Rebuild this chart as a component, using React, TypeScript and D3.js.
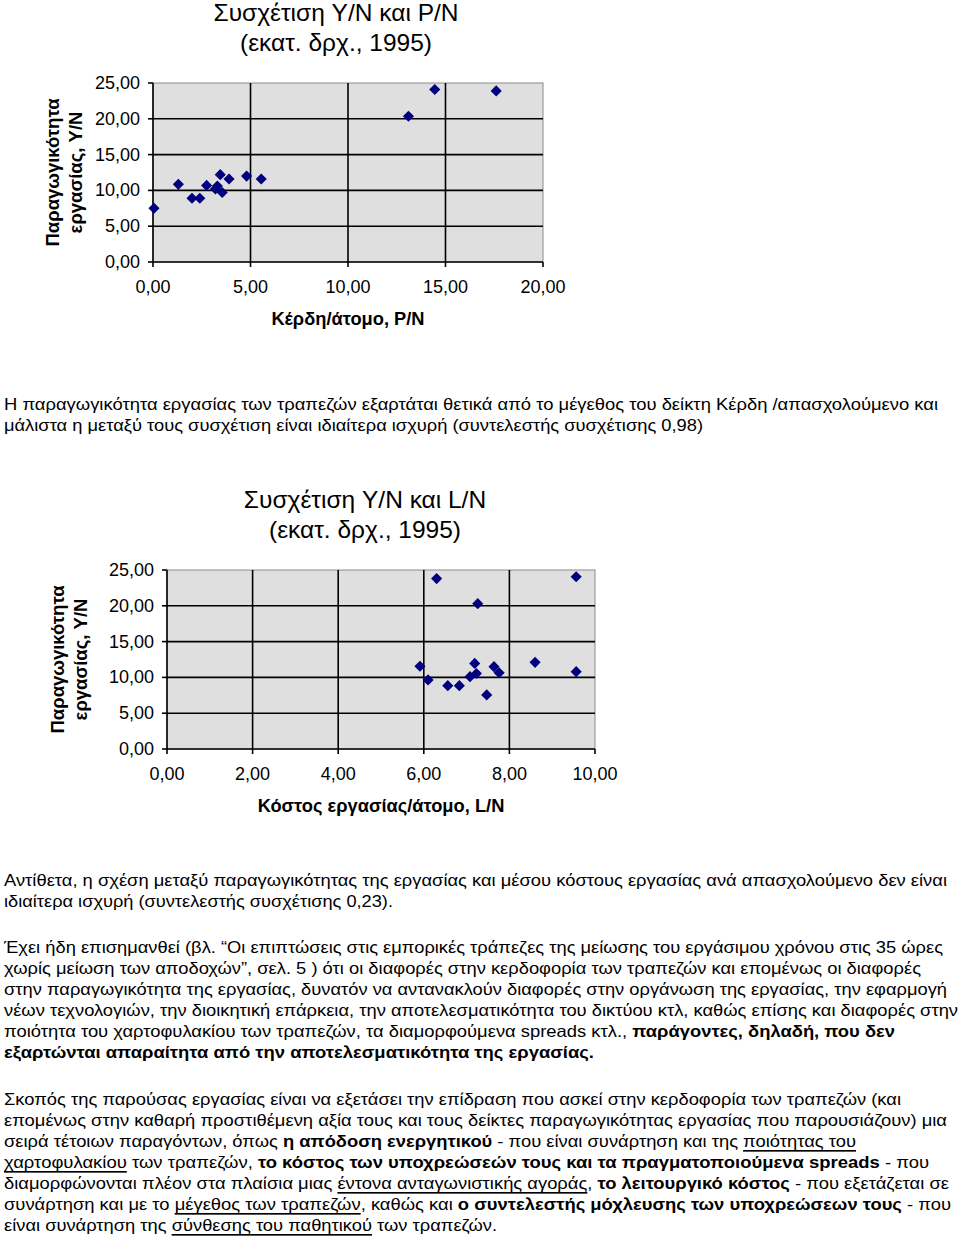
import React from "react";
import * as d3 from "d3";

// ---------- data ----------
const pnValues = [0.05, 1.3, 2.0, 2.4, 2.75, 3.2, 3.3, 3.45, 3.55, 3.9, 4.8, 5.55, 13.1, 14.45, 17.6];
const ynValuesP = [7.5, 10.85, 8.9, 8.9, 10.7, 10.2, 10.6, 12.2, 9.7, 11.6, 12.0, 11.6, 20.35, 24.1, 23.9];

const lnValues = [5.91, 6.1, 6.3, 6.56, 6.83, 7.08, 7.19, 7.23, 7.26, 7.47, 7.64, 7.76, 8.6, 9.56, 9.56];
const ynValuesL = [11.55, 9.65, 23.8, 8.85, 8.85, 10.1, 11.95, 10.55, 20.3, 7.55, 11.5, 10.65, 12.1, 24.05, 10.8];

const yTicks = [0, 5, 10, 15, 20, 25];
const xTicksP = [0, 5, 10, 15, 20];
const xTicksL = [0, 2, 4, 6, 8, 10];

const chart1Title = ["Συσχέτιση Y/N και P/N", "(εκατ. δρχ., 1995)"];
const chart2Title = ["Συσχέτιση Y/N και L/N", "(εκατ. δρχ., 1995)"];
const chart1XTitle = "Κέρδη/άτομο, P/N";
const chart2XTitle = "Κόστος εργασίας/άτομο, L/N";
const yTitleLines = ["Παραγωγικότητα", "εργασίας, Y/N"];

type Seg = { t: string; b?: boolean; u?: boolean };
type Line = { y: number; w: number; segs: Seg[] };

const paragraphs: Line[] = [
  { y: 404, w: 934, segs: [{ t: "Η παραγωγικότητα εργασίας των τραπεζών εξαρτάται θετικά από το μέγεθος του δείκτη Κέρδη /απασχολούμενο και" }] },
  { y: 425, w: 699, segs: [{ t: "μάλιστα η μεταξύ τους συσχέτιση είναι ιδιαίτερα ισχυρή (συντελεστής συσχέτισης 0,98)" }] },
  { y: 880, w: 943, segs: [{ t: "Αντίθετα, η σχέση μεταξύ παραγωγικότητας της εργασίας και μέσου κόστους εργασίας ανά απασχολούμενο δεν είναι" }] },
  { y: 901, w: 389, segs: [{ t: "ιδιαίτερα ισχυρή (συντελεστής συσχέτισης 0,23)." }] },
  { y: 947, w: 939, segs: [{ t: "Έχει ήδη επισημανθεί (βλ. “Οι επιπτώσεις στις εμπορικές τράπεζες της μείωσης του εργάσιμου χρόνου στις 35 ώρες" }] },
  { y: 968, w: 917, segs: [{ t: "χωρίς μείωση των αποδοχών”, σελ. 5 ) ότι οι διαφορές στην κερδοφορία των τραπεζών και επομένως οι διαφορές" }] },
  { y: 989, w: 943, segs: [{ t: "στην παραγωγικότητα της εργασίας, δυνατόν να αντανακλούν διαφορές στην οργάνωση της εργασίας, την εφαρμογή" }] },
  { y: 1010, w: 954, segs: [{ t: "νέων τεχνολογιών, την διοικητική επάρκεια, την αποτελεσματικότητα του δικτύου κτλ, καθώς επίσης και διαφορές στην" }] },
  { y: 1031, w: 891, segs: [{ t: "ποιότητα του χαρτοφυλακίου των τραπεζών, τα διαμορφούμενα spreads κτλ., " }, { t: "παράγοντες, δηλαδή, που δεν", b: true }] },
  { y: 1052, w: 590, segs: [{ t: "εξαρτώνται απαραίτητα από την αποτελεσματικότητα της εργασίας.", b: true }] },
  { y: 1099, w: 897, segs: [{ t: "Σκοπός της παρούσας εργασίας είναι να εξετάσει την επίδραση που ασκεί στην κερδοφορία των τραπεζών (και" }] },
  { y: 1120, w: 943, segs: [{ t: "επομένως στην καθαρή προστιθέμενη αξία τους και τους δείκτες παραγωγικότητας εργασίας που παρουσιάζουν) μια" }] },
  { y: 1141, w: 852, segs: [{ t: "σειρά τέτοιων παραγόντων, όπως " }, { t: "η απόδοση ενεργητικού", b: true }, { t: " - που είναι συνάρτηση και της " }, { t: "ποιότητας του", u: true }] },
  { y: 1162, w: 925, segs: [{ t: "χαρτοφυλακίου", u: true }, { t: " των τραπεζών, " }, { t: "το κόστος των υποχρεώσεών τους και τα πραγματοποιούμενα spreads", b: true }, { t: " - που" }] },
  { y: 1183, w: 945, segs: [{ t: "διαμορφώνονται πλέον στα πλαίσια μιας " }, { t: "έντονα ανταγωνιστικής αγοράς", u: true }, { t: ", " }, { t: "το λειτουργικό κόστος", b: true }, { t: " - που εξετάζεται σε" }] },
  { y: 1204, w: 947, segs: [{ t: "συνάρτηση και με το " }, { t: "μέγεθος των τραπεζών", u: true }, { t: ", καθώς και " }, { t: "ο συντελεστής μόχλευσης των υποχρεώσεων τους", b: true }, { t: " - που" }] },
  { y: 1225, w: 493, segs: [{ t: "είναι συνάρτηση της " }, { t: "σύνθεσης του παθητικού", u: true }, { t: " των τραπεζών." }] },
];

const fmt = (v: number) => d3.format(".2f")(v).replace(".", ",");
const FONT = "'Liberation Sans', Arial, sans-serif";

type ChartProps = {
  xs: number[];
  ys: number[];
  xTicks: number[];
  left: number;
  right: number;
  top: number;
  bottom: number;
  title: string[];
  titleX: number;
  titleY: number;
  xTitle: string;
  yTitleX: number;
};

function Scatter(p: ChartProps) {
  const x = d3.scaleLinear().domain([p.xTicks[0], p.xTicks[p.xTicks.length - 1]]).range([p.left, p.right]);
  const y = d3.scaleLinear().domain([0, 25]).range([p.bottom, p.top]);
  const diamond = d3.symbol(d3.symbolSquare, 62)();
  const cy = (p.top + p.bottom) / 2;
  return (
    <g fontFamily={FONT}>
      {p.title.map((t, i) => (
        <text key={i} x={p.titleX} y={p.titleY + i * 30} textAnchor="middle" dominantBaseline="central" fontSize={24.5} fill="#000">
          {t}
        </text>
      ))}
      <rect x={p.left} y={p.top} width={p.right - p.left} height={p.bottom - p.top} fill="#dfdfdf" stroke="#8c8c8c" strokeWidth={1} />
      {yTicks.filter((v) => v > 0 && v < 25).map((v) => (
        <line key={"hg" + v} x1={p.left} x2={p.right} y1={y(v)} y2={y(v)} stroke="#000" strokeWidth={1.6} />
      ))}
      {p.xTicks.slice(1, -1).map((v) => (
        <line key={"vg" + v} x1={x(v)} x2={x(v)} y1={p.top} y2={p.bottom} stroke="#000" strokeWidth={1.6} />
      ))}
      <line x1={p.left} x2={p.left} y1={p.top} y2={p.bottom} stroke="#000" strokeWidth={1.6} />
      <line x1={p.left} x2={p.right} y1={p.bottom} y2={p.bottom} stroke="#000" strokeWidth={1.6} />
      {yTicks.map((v) => (
        <g key={"yt" + v}>
          <line x1={p.left - 5} x2={p.left} y1={y(v)} y2={y(v)} stroke="#000" strokeWidth={1.6} />
          <text x={p.left - 13} y={y(v)} textAnchor="end" dominantBaseline="central" fontSize={18} fill="#000">
            {fmt(v)}
          </text>
        </g>
      ))}
      {p.xTicks.map((v) => (
        <g key={"xt" + v}>
          <line x1={x(v)} x2={x(v)} y1={p.bottom} y2={p.bottom + 5} stroke="#000" strokeWidth={1.6} />
          <text x={x(v)} y={p.bottom + 25} textAnchor="middle" dominantBaseline="central" fontSize={18} fill="#000">
            {fmt(v)}
          </text>
        </g>
      ))}
      {p.xs.map((xv, i) => (
        <path key={"pt" + i} d={diamond} transform={`translate(${x(xv)},${y(p.ys[i])}) rotate(45)`} fill="#00007f" />
      ))}
      <text x={(p.left + p.right) / 2} y={p.bottom + 56} textAnchor="middle" dominantBaseline="central" fontSize={18.3} fontWeight="bold" fill="#000">
        {p.xTitle}
      </text>
      {yTitleLines.map((t, i) => (
        <text
          key={"yl" + i}
          transform={`translate(${p.yTitleX + i * 23},${cy}) rotate(-90)`}
          textAnchor="middle"
          dominantBaseline="central"
          fontSize={18.5}
          fontWeight="bold"
          fill="#000"
        >
          {t}
        </text>
      ))}
    </g>
  );
}

export default function App() {
  return (
    <svg
      width={960}
      height={1238}
      viewBox="0 0 960 1238"
      style={{ display: "block", position: "absolute", left: 0, top: 0 }}
    >
      <rect x={0} y={0} width={960} height={1238} fill="#fff" />
      <Scatter
        xs={pnValues}
        ys={ynValuesP}
        xTicks={xTicksP}
        left={153}
        right={543}
        top={83}
        bottom={262}
        title={chart1Title}
        titleX={336}
        titleY={12}
        xTitle={chart1XTitle}
        yTitleX={52}
      />
      <Scatter
        xs={lnValues}
        ys={ynValuesL}
        xTicks={xTicksL}
        left={167}
        right={595}
        top={570}
        bottom={749}
        title={chart2Title}
        titleX={365}
        titleY={499}
        xTitle={chart2XTitle}
        yTitleX={57}
      />
      <g fontFamily={FONT} fontSize={16.5} fill="#000">
        {paragraphs.map((ln, i) => (
          <text key={i} x={4} y={ln.y} dominantBaseline="central" textLength={ln.w} lengthAdjust="spacingAndGlyphs">
            {ln.segs.map((s, j) => (
              <tspan key={j} fontWeight={s.b ? "bold" : "normal"} textDecoration={s.u ? "underline" : undefined}>
                {s.t}
              </tspan>
            ))}
          </text>
        ))}
      </g>
    </svg>
  );
}
